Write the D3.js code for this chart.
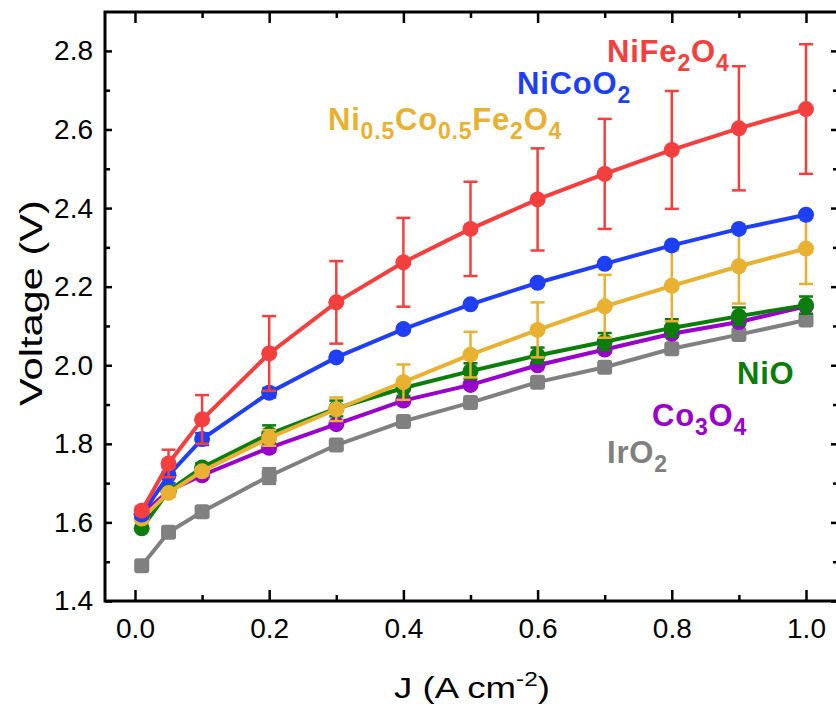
<!DOCTYPE html>
<html><head><meta charset="utf-8">
<script src="https://cdn.jsdelivr.net/npm/d3@7"></script>
<style>body{margin:0;background:#fff}svg{display:block}text{font-family:"Liberation Sans",Arial,sans-serif}</style>
</head><body>
<svg id="c" width="836" height="704"></svg>
<script>
const J = [0.01, 0.05, 0.1, 0.2, 0.3, 0.4, 0.5, 0.6, 0.7, 0.8, 0.9, 1.0];
const xTicks = [0, 0.2, 0.4, 0.6, 0.8, 1.0];
const yTicks = [1.4, 1.6, 1.8, 2.0, 2.2, 2.4, 2.6, 2.8];

const nife = [1.63, 1.75, 1.862, 2.03, 2.16, 2.262, 2.347, 2.422, 2.487, 2.548, 2.603, 2.652];
const nifeErr = [0.01, 0.035, 0.062, 0.095, 0.105, 0.113, 0.12, 0.13, 0.14, 0.15, 0.158, 0.165];
const nico = [1.62, 1.72, 1.812, 1.93, 2.02, 2.092, 2.155, 2.21, 2.258, 2.305, 2.347, 2.383];
const nicoErr = [0.01, 0.02, 0.015, 0.012, 0.005, 0.005, 0.005, 0.005, 0.005, 0.005, 0.005, 0.005];
const nicofe = [1.61, 1.675, 1.73, 1.815, 1.888, 1.957, 2.027, 2.09, 2.15, 2.202, 2.252, 2.297];
const nicofeErr = [0.01, 0.01, 0.01, 0.02, 0.03, 0.045, 0.058, 0.07, 0.08, 0.09, 0.095, 0.09];
const nio = [1.585, 1.68, 1.74, 1.825, 1.89, 1.942, 1.985, 2.025, 2.06, 2.095, 2.125, 2.153];
const nioErr = [0.005, 0.01, 0.01, 0.022, 0.02, 0.02, 0.02, 0.02, 0.022, 0.022, 0.022, 0.022];
const co3o4 = [1.62, 1.68, 1.72, 1.79, 1.85, 1.91, 1.95, 2.0, 2.04, 2.08, 2.11, 2.15];
const co3o4Err = [0.005, 0.005, 0.005, 0.01, 0.005, 0.005, 0.005, 0.005, 0.005, 0.005, 0.005, 0.005];
const iro2 = [1.49, 1.575, 1.627, 1.718, 1.797, 1.857, 1.905, 1.957, 1.995, 2.042, 2.078, 2.115];
const iro2Err = [0.005, 0.005, 0.01, 0.02, 0.01, 0.005, 0.005, 0.005, 0.005, 0.005, 0.005, 0.005];

const seriesNames = ["IrO2", "Co3O4", "NiO", "Ni0.5Co0.5Fe2O4", "NiCoO2", "NiFe2O4"];
const seriesValues = [iro2, co3o4, nio, nicofe, nico, nife];
const seriesErrors = [iro2Err, co3o4Err, nioErr, nicofeErr, nicoErr, nifeErr];
const seriesColors = ["#808080", "#9a00cc", "#0a7d0a", "#e9b132", "#1f3ff5", "#f43f3f"];
const seriesShapes = ["square", "circle", "circle", "circle", "circle", "circle"];

const svg = d3.select("#c");
const L = 105, R = 838, T = 12, B = 601;
const x = d3.scaleLinear().domain([-0.0447, 1.0477]).range([L, R]);
const y = d3.scaleLinear().domain([1.4, 2.899]).range([B, T]);

const ax = g => g.selectAll(".domain").remove();
const fs = "28px";
const xAx = svg.append("g").attr("transform", `translate(0,${B})`)
  .call(d3.axisBottom(x).tickValues(xTicks).tickSize(-11).tickPadding(17).tickFormat(d3.format(".1f")));
const xMin = svg.append("g").attr("transform", `translate(0,${B})`)
  .call(d3.axisBottom(x).tickValues([0.1,0.3,0.5,0.7,0.9]).tickSize(-6).tickFormat(""));
const xTop = svg.append("g").attr("transform", `translate(0,${T})`)
  .call(d3.axisTop(x).tickValues(xTicks).tickSize(-11).tickFormat(""));
const xTopMin = svg.append("g").attr("transform", `translate(0,${T})`)
  .call(d3.axisTop(x).tickValues([0.1,0.3,0.5,0.7,0.9]).tickSize(-6).tickFormat(""));
const yAx = svg.append("g").attr("transform", `translate(${L},0)`)
  .call(d3.axisLeft(y).tickValues(yTicks).tickSize(-7).tickPadding(12).tickFormat(d3.format(".1f")));
const yMin = svg.append("g").attr("transform", `translate(${L},0)`)
  .call(d3.axisLeft(y).tickValues([1.5,1.7,1.9,2.1,2.3,2.5,2.7]).tickSize(-5).tickFormat(""));
const yR = svg.append("g").attr("transform", `translate(${R},0)`)
  .call(d3.axisRight(y).tickValues(yTicks).tickSize(-7).tickFormat(""));
const yRMin = svg.append("g").attr("transform", `translate(${R},0)`)
  .call(d3.axisRight(y).tickValues([1.5,1.7,1.9,2.1,2.3,2.5,2.7]).tickSize(-5).tickFormat(""));
[xAx,xMin,xTop,xTopMin,yAx,yMin,yR,yRMin].forEach(g=>{
  g.call(ax);
  g.selectAll("line").attr("stroke","#000").attr("stroke-width",2.5);
  g.selectAll("text").attr("font-size",fs).attr("fill","#000").attr("font-family","'Liberation Sans',Arial,sans-serif");
});
svg.append("rect").attr("x",L).attr("y",T).attr("width",R-L).attr("height",B-T)
  .attr("fill","none").attr("stroke","#000").attr("stroke-width",3);

const line = d3.line().x((d,i)=>x(J[i])).y(d=>y(d));
seriesValues.forEach((vals, s) => {
  const col = seriesColors[s];
  const g = svg.append("g");
  vals.forEach((v,i)=>{
    const e = seriesErrors[s][i];
    const cx = x(J[i]);
    g.append("line").attr("x1",cx).attr("x2",cx).attr("y1",y(v+e)).attr("y2",y(v-e)).attr("stroke",col).attr("stroke-width",2.5);
    [v+e, v-e].forEach(w=>g.append("line").attr("x1",cx-7).attr("x2",cx+7).attr("y1",y(w)).attr("y2",y(w)).attr("stroke",col).attr("stroke-width",2.5));
  });
  g.append("path").datum(vals).attr("d",line).attr("fill","none").attr("stroke",col).attr("stroke-width",4);
  vals.forEach((v,i)=>{
    if (seriesShapes[s]==="square") {
      g.append("rect").attr("x",x(J[i])-7.5).attr("y",y(v)-7.5).attr("width",15).attr("height",15).attr("rx",3).attr("fill",col);
    } else {
      g.append("circle").attr("cx",x(J[i])).attr("cy",y(v)).attr("r",8).attr("fill",col);
    }
  });
});

function label(parts, xx, yy, col) {
  const t = svg.append("text").attr("x",xx).attr("y",yy).attr("fill",col)
    .attr("font-size","31px").attr("font-weight","bold").attr("letter-spacing","0.8px");
  parts.forEach(p=>{
    const ts = t.append("tspan").text(p[0]);
    if (p[1]) ts.attr("font-size","23px").attr("dy",9);
    else ts.attr("dy", p[2]||0);
  });
}
label([["NiFe"],["2",1],["O",0,-9],["4",1]], 607, 62, seriesColors[5]);
label([["NiCoO"],["2",1]], 517, 94, seriesColors[4]);
label([["Ni"],["0.5",1],["Co",0,-9],["0.5",1],["Fe",0,-9],["2",1],["O",0,-9],["4",1]], 328, 130, seriesColors[3]);
label([["NiO"]], 737, 384, seriesColors[2]);
label([["Co"],["3",1],["O",0,-9],["4",1]], 652, 426, seriesColors[1]);
label([["IrO"],["2",1]], 607, 463, seriesColors[0]);

// x title, stretched horizontally like the reference
const xt = svg.append("g").attr("transform","translate(472,698) scale(1.22,1)");
xt.append("text").attr("text-anchor","middle").attr("font-size","30px")
  .html('J (A cm<tspan dy="-12" font-size="20px">-2</tspan><tspan dy="12">)</tspan>');
const yt = svg.append("g").attr("transform","translate(42,303) rotate(-90) scale(1.3,1)");
yt.append("text").attr("text-anchor","middle").attr("font-size","32px").text("Voltage (V)");
</script>
</body></html>
